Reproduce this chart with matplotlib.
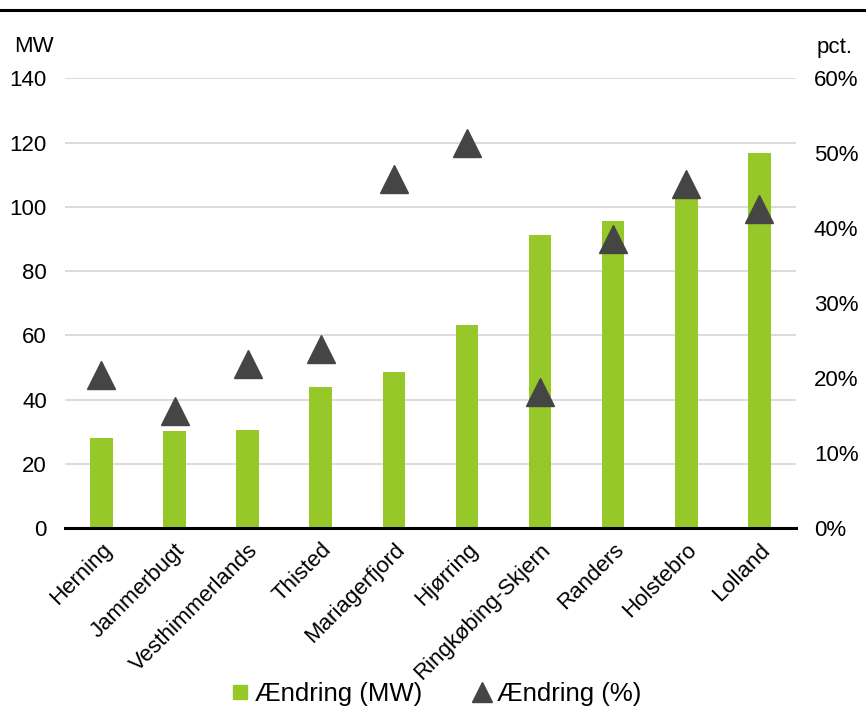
import numpy as np
import matplotlib as mpl
import matplotlib.pyplot as plt
from matplotlib.lines import Line2D
from matplotlib.ticker import MultipleLocator, FuncFormatter

mpl.rcParams.update({
    "font.family": ["Liberation Sans", "DejaVu Sans"],
    "font.size": 16,
})

GREEN = "#97C82A"
DARK = "#454545"
GRID = "#D9D9D9"

# change in installed capacity per municipality
kommuner = ["Herning", "Jammerbugt", "Vesthimmerlands", "Thisted", "Mariagerfjord",
            "Hjørring", "Ringkøbing-Skjern", "Randers", "Holstebro", "Lolland"]
change_mw = [28.0, 30.2, 30.7, 44.0, 48.5, 63.2, 91.1, 95.7, 104.0, 116.6]
change_pct = [20.4, 15.6, 21.9, 23.9, 46.6, 51.3, 18.2, 38.6, 45.9, 42.6]

fig = plt.figure(figsize=(8.66, 7.11), dpi=100)
ax = fig.add_axes([0.075, 0.257, 0.844, 0.633])
ax2 = ax.twinx()

x = np.arange(len(kommuner))
ax.bar(x, change_mw, width=0.31, color=GREEN, zorder=2)
ax.set_xlim(-0.5, len(kommuner) - 0.5)
ax.set_ylim(0, 140)
ax.yaxis.set_major_locator(MultipleLocator(20))
ax.grid(axis="y", color=GRID, lw=1.3, zorder=0)
ax.set_axisbelow(True)

ax2.plot(x, np.array(change_pct) / 100, ls="none", marker="^", ms=20.5,
         color=DARK, zorder=3)
ax2.set_ylim(0, 0.6)
ax2.yaxis.set_major_locator(MultipleLocator(0.1))
ax2.yaxis.set_major_formatter(FuncFormatter(lambda v, _: f"{v * 100:.0f}%"))

for a in (ax, ax2):
    for s in ("top", "right", "left", "bottom"):
        a.spines[s].set_visible(False)
    a.tick_params(length=0)
ax.tick_params(axis="y", pad=13)
ax2.tick_params(axis="y", pad=13)
ax.axhline(0, color="black", lw=2.2, zorder=4, clip_on=False)

ax.set_xticks(x)
ax.set_xticklabels(kommuner, rotation=45, ha="right", rotation_mode="anchor")
ax.tick_params(axis="x", pad=8)

fig.text(14 / 866, 1 - 47 / 711, "MW", ha="left", va="center", fontsize=16)
fig.text(853 / 866, 1 - 47 / 711, "pct.", ha="right", va="center", fontsize=16)

# rule along the top edge
fig.add_artist(Line2D([0, 1], [1 - 10 / 711, 1 - 10 / 711], color="black", lw=2.2))

handles = [
    Line2D([], [], ls="none", marker="s", ms=10, color=GREEN),
    Line2D([], [], ls="none", marker="^", ms=14, color=DARK),
]
fig.legend(handles, ["Ændring (MW)", "Ændring (%)"], loc="center",
           bbox_to_anchor=(437 / 866, 1 - 694 / 711), ncol=2, frameon=False,
           fontsize=18.5, handlelength=0.6, handletextpad=0.3, columnspacing=2.0)

fig.savefig("out.png", dpi=100)
